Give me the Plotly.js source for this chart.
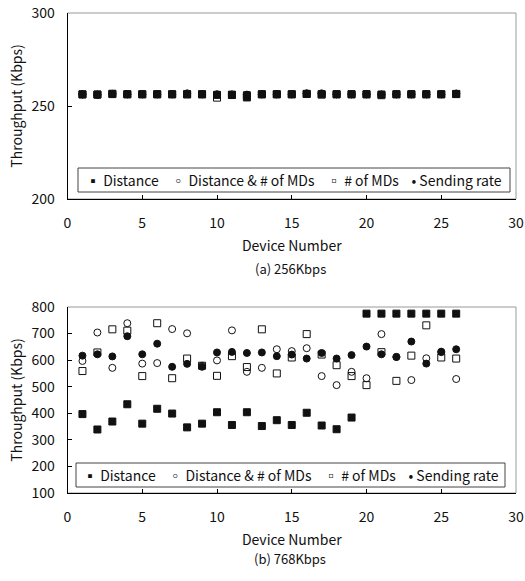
<!DOCTYPE html>
<html><head><meta charset="utf-8">
<script src="https://cdn.plot.ly/plotly-3.0.1.min.js"></script>
<style>body{margin:0;padding:0;background:#fff}#c{width:525px;height:581px}</style>
</head><body><div id="c"></div>
<script>
const devices = [1,2,3,4,5,6,7,8,9,10,11,12,13,14,15,16,17,18,19,20,21,22,23,24,25,26];
const seriesNames = ["Distance", "Distance & # of MDs", "# of MDs", "Sending rate"];
const legendSymbols = ["▪", "◦", "▫", "•"];
// (a) 256Kbps
const dist256   = [256.3,256.2,256.6,256.3,256.3,256.3,256.3,256.4,256.3,256.0,256.1,254.6,256.3,256.3,256.3,256.5,256.4,256.3,256.3,256.3,256.2,256.3,256.3,256.3,256.3,256.5];
const distMD256 = [256.2,256.1,256.5,256.3,256.3,256.3,256.3,256.8,256.3,256.3,256.1,256.0,256.3,256.3,256.3,256.8,256.8,256.3,256.3,256.3,256.1,256.3,256.3,256.3,256.3,256.7];
const md256     = [256.2,256.1,256.4,256.3,256.3,256.3,256.3,256.2,256.3,254.5,255.9,255.8,256.3,256.3,256.3,256.5,256.1,256.3,256.3,256.3,255.8,256.3,256.3,256.3,256.3,256.4];
const send256   = [256.3,256.0,256.5,256.3,256.3,256.3,256.3,256.6,256.3,256.1,256.2,256.1,256.3,256.3,256.3,256.7,256.6,256.3,256.3,256.3,256.2,256.3,256.3,256.3,256.3,256.6];
// (b) 768Kbps
const dist768   = [397,339,369,434,361,417,399,347,361,404,356,404,352,374,356,402,354,340,384,775,775,775,775,775,775,775];
const distMD768 = [597,704,571,739,587,589,717,701,579,599,712,556,571,641,634,645,540,506,556,532,698,612,525,607,630,529];
const md768     = [559,629,716,711,540,739,532,606,579,541,615,574,716,550,610,698,621,581,540,506,630,522,617,731,610,606];
const send768   = [617,622,614,690,622,662,575,586,575,629,631,627,629,615,621,606,627,606,619,651,622,612,670,587,632,641];

const FONT = '"Noto Sans CJK JP", "DejaVu Sans", sans-serif';
const FS = 14;
const markers = [
  {symbol:'square', color:'#111', size:7, line:{color:'#111', width:1}},
  {symbol:'circle-open', color:'#111', size:7, line:{color:'#111', width:1}},
  {symbol:'square-open', color:'#111', size:7, line:{color:'#111', width:1}},
  {symbol:'circle', color:'#111', size:7, line:{color:'#111', width:1}}
];
function mk(ys, xa, ya) {
  return ys.map((y,i)=>({
    type:'scatter', mode:'markers', x:devices, y:y, name:seriesNames[i],
    xaxis:xa, yaxis:ya, showlegend:false, marker:markers[i], cliponaxis:false
  }));
}
const data = [
  ...mk([dist256, distMD256, md256, send256], 'x', 'y'),
  ...mk([dist768, distMD768, md768, send768], 'x2', 'y2')
];
const legendText = seriesNames.map((n,i)=>
  legendSymbols[i] + '&nbsp;' + n.replace('&','&amp;')
).join('&nbsp;&nbsp;&nbsp;&nbsp;');

const xdom = [67.5/525, 516/525];
const axBase = {
  showgrid:false, zeroline:false, ticks:'inside', ticklen:4, tickcolor:'#000',
  showline:true, linecolor:'#000', linewidth:1, mirror:false,
  tickfont:{family:FONT, size:FS, color:'#111'}
};
const xaxisCommon = Object.assign({}, axBase, {range:[0,30], dtick:5, tick0:0, ticklabelstandoff:11,
  title:{text:'Device Number', font:{family:FONT, size:FS, color:'#111'}, standoff:10}});
const yTitle = {text:'Throughput (Kbps)', font:{family:FONT, size:FS, color:'#111'}, standoff:5};
const P = v => 1 - v/581;
const layout = {
  width:525, height:581, margin:{l:0,r:0,t:0,b:0},
  paper_bgcolor:'#fff', plot_bgcolor:'#fff', showlegend:false,
  xaxis: Object.assign({}, xaxisCommon, {domain:xdom, anchor:'y'}),
  yaxis: Object.assign({}, axBase, {domain:[P(199), P(13)], range:[200,300], dtick:50, anchor:'x', ticklabelstandoff:9, title:yTitle}),
  xaxis2: Object.assign({}, xaxisCommon, {domain:xdom, anchor:'y2'}),
  yaxis2: Object.assign({}, axBase, {domain:[P(493), P(307)], range:[100,800], dtick:100, anchor:'x2', ticklabelstandoff:9, title:yTitle}),
  shapes: [
    {type:'rect', xref:'paper', yref:'paper', x0:xdom[0], x1:xdom[1], y0:P(199), y1:P(13), line:{color:'#999', width:1}, layer:'below'},
    {type:'rect', xref:'paper', yref:'paper', x0:xdom[0], x1:xdom[1], y0:P(493), y1:P(307), line:{color:'#999', width:1}, layer:'below'},
    {type:'rect', xref:'paper', yref:'paper', x0:78/525, x1:510/525, y0:P(192), y1:P(168), line:{color:'#444', width:1}, fillcolor:'#fff', layer:'above'},
    {type:'rect', xref:'paper', yref:'paper', x0:76/525, x1:505/525, y0:P(487), y1:P(463), line:{color:'#444', width:1}, fillcolor:'#fff', layer:'above'}
  ],
  annotations: [
    {text:legendText, xref:'paper', yref:'paper', x:294/525, y:P(180), yanchor:'middle', showarrow:false, font:{family:FONT, size:FS, color:'#111'}},
    {text:legendText, xref:'paper', yref:'paper', x:290.5/525, y:P(475), yanchor:'middle', showarrow:false, font:{family:FONT, size:FS, color:'#111'}},
    {text:'(a) 256Kbps', xref:'paper', yref:'paper', x:290/525, y:P(268), showarrow:false, font:{family:FONT, size:13, color:'#111'}},
    {text:'(b) 768Kbps', xref:'paper', yref:'paper', x:290/525, y:P(570), showarrow:false, font:{family:FONT, size:13, color:'#111'}}
  ]
};
Plotly.newPlot('c', data, layout, {displayModeBar:false, staticPlot:true});
</script></body></html>
